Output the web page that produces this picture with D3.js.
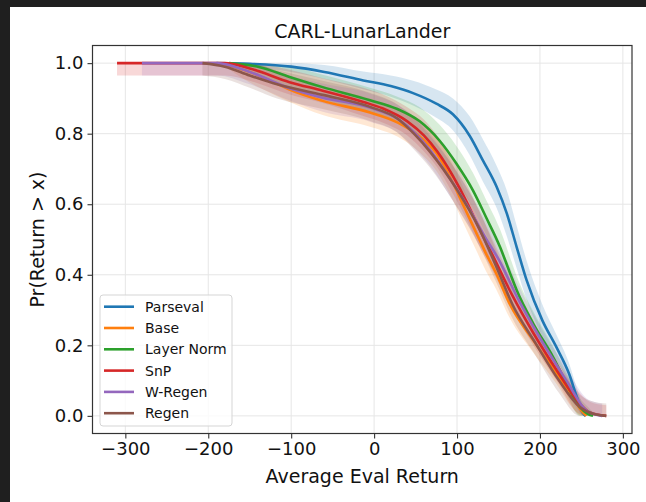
<!DOCTYPE html>
<html><head><meta charset="utf-8">
<script src="https://cdn.jsdelivr.net/npm/d3@7"></script>
<style>
html,body{margin:0;padding:0;background:#fff;}
svg{display:block;font-family:"DejaVu Sans",sans-serif;}
</style></head>
<body><svg id="chart" width="646" height="502"></svg>
<script>
// ---- data ----
const seriesNames = ["Parseval","Base","Layer Norm","SnP","W-Regen","Regen"];
const seriesColors = ["#1f77b4","#ff7f0e","#2ca02c","#d62728","#9467bd","#8c564b"];
const xTicks = [-300,-200,-100,0,100,200,300];
const yTicks = [0.0,0.2,0.4,0.6,0.8,1.0];

const parsevalX = [-190,-150,-100,-60,-13,20,47,75,95,115,131,148,160,172,184,203,220,235,245,252,255];
const parsevalY = [1.0,0.998,0.99,0.975,0.951,0.935,0.915,0.885,0.855,0.795,0.725,0.648,0.574,0.478,0.384,0.27,0.194,0.12,0.05,0.007,0.0];
const parsevalS = [0.0,0.01,0.015,0.02,0.025,0.03,0.035,0.04,0.045,0.055,0.06,0.06,0.065,0.06,0.055,0.045,0.035,0.03,0.025,0.02,0.01];

const baseX = [-185,-150,-120,-102,-62,-5,28,55,75,91,110,125,135,147,164,192,220,240,250,256];
const baseY = [1.0,0.975,0.945,0.925,0.893,0.86,0.832,0.792,0.745,0.68,0.585,0.51,0.46,0.405,0.315,0.214,0.12,0.05,0.015,0.0];
const baseS = [0.0,0.03,0.035,0.035,0.04,0.04,0.04,0.045,0.05,0.05,0.05,0.05,0.05,0.045,0.04,0.035,0.03,0.03,0.02,0.01];

const layerNormX = [-175,-140,-102,-62,-5,28,55,79,99,119,135,152,164,172,192,216,232,248,258,264];
const layerNormY = [1.0,0.99,0.961,0.932,0.895,0.87,0.835,0.78,0.716,0.64,0.563,0.478,0.404,0.356,0.261,0.166,0.092,0.025,0.005,0.0];
const layerNormS = [0.0,0.02,0.03,0.035,0.035,0.035,0.04,0.045,0.05,0.05,0.05,0.05,0.045,0.04,0.035,0.03,0.03,0.025,0.02,0.01];

const snpX = [-310,-180,-150,-102,-62,-13,10,40,60,76,95,112,127,143,167,192,220,248,260,280];
const snpY = [1.0,1.0,0.985,0.946,0.922,0.89,0.872,0.835,0.795,0.75,0.68,0.605,0.53,0.455,0.34,0.235,0.13,0.035,0.01,0.0];
const snpS = [0.035,0.035,0.035,0.035,0.035,0.04,0.04,0.04,0.045,0.045,0.05,0.05,0.05,0.045,0.04,0.035,0.03,0.03,0.03,0.03];

const wRegenX = [-280,-190,-150,-102,-62,-5,30,50,67,95,115,133,151,175,199,232,256,268,275];
const wRegenY = [1.0,1.0,0.975,0.929,0.902,0.874,0.84,0.8,0.755,0.66,0.585,0.51,0.44,0.325,0.225,0.1,0.015,0.003,0.0];
const wRegenS = [0.035,0.035,0.035,0.035,0.04,0.04,0.04,0.045,0.045,0.05,0.05,0.05,0.045,0.04,0.035,0.035,0.035,0.035,0.035];

const regenX = [-207,-180,-150,-117,-62,-5,28,48,67,99,127,147,167,195,223,248,265,280];
const regenY = [1.0,0.99,0.965,0.94,0.91,0.876,0.843,0.8,0.75,0.645,0.53,0.425,0.315,0.205,0.1,0.025,0.005,0.0];
const regenS = [0.035,0.035,0.035,0.04,0.04,0.04,0.04,0.045,0.045,0.05,0.05,0.045,0.04,0.035,0.035,0.035,0.035,0.035];

const allX = [parsevalX,baseX,layerNormX,snpX,wRegenX,regenX];
const allY = [parsevalY,baseY,layerNormY,snpY,wRegenY,regenY];
const allS = [parsevalS,baseS,layerNormS,snpS,wRegenS,regenS];

// ---- layout ----
const svg = d3.select("#chart");
const L = 92.5, R = 632, T = 45.5, B = 433.5;
const x = d3.scaleLinear().domain([-339.6, 311.0]).range([L, R]);
const y = d3.scaleLinear().domain([-0.05, 1.05]).range([B, T]);

svg.append("rect").attr("width",646).attr("height",502).attr("fill","#fff");

// grid
const grid = svg.append("g");
grid.selectAll(".gx").data(xTicks).join("line")
  .attr("x1",d=>x(d)).attr("x2",d=>x(d)).attr("y1",T).attr("y2",B)
  .attr("stroke","#e6e6e6").attr("stroke-width",1);
grid.selectAll(".gy").data(yTicks).join("line")
  .attr("y1",d=>y(d)).attr("y2",d=>y(d)).attr("x1",L).attr("x2",R)
  .attr("stroke","#e6e6e6").attr("stroke-width",1);

svg.append("clipPath").attr("id","clip").append("rect")
  .attr("x",L).attr("y",T).attr("width",R-L).attr("height",B-T);
const plot = svg.append("g").attr("clip-path","url(#clip)");

const area = d3.area().curve(d3.curveMonotoneX).x(d=>x(d.x)).y0(d=>y(d.lo)).y1(d=>y(d.hi));
const line = d3.line().curve(d3.curveMonotoneX).x(d=>x(d.x)).y(d=>y(d.y));

seriesNames.forEach((name,i)=>{
  const pts = allX[i].map((xv,j)=>({x:xv,y:allY[i][j],
    lo:Math.max(0,allY[i][j]-allS[i][j]), hi:Math.min(1,allY[i][j]+allS[i][j])}));
  plot.append("path").datum(pts).attr("d",area)
    .attr("fill",seriesColors[i]).attr("fill-opacity",0.18).attr("stroke","none");
});
seriesNames.forEach((name,i)=>{
  const pts = allX[i].map((xv,j)=>({x:xv,y:allY[i][j]}));
  plot.append("path").datum(pts).attr("d",line)
    .attr("fill","none").attr("stroke",seriesColors[i]).attr("stroke-width",2.6)
    .attr("stroke-linejoin","round");
});

// axes
const axisColor = "#333";
const xAxis = svg.append("g").attr("transform",`translate(0,${B})`)
  .call(d3.axisBottom(x).tickValues(xTicks).tickSize(5).tickPadding(4)
    .tickFormat(d=>d<0?"\u2212"+Math.abs(d):String(d)));
const yAxis = svg.append("g").attr("transform",`translate(${L},0)`)
  .call(d3.axisLeft(y).tickValues(yTicks).tickSize(5).tickPadding(4).tickFormat(d3.format(".1f")));
[xAxis,yAxis].forEach(a=>{
  a.select(".domain").remove();
  a.selectAll(".tick line").attr("stroke",axisColor).attr("stroke-width",1.1);
  a.selectAll(".tick text").attr("fill","#111").style("font-size","18px").style("font-family","DejaVu Sans");
});
svg.append("rect").attr("x",L).attr("y",T).attr("width",R-L).attr("height",B-T)
  .attr("fill","none").attr("stroke",axisColor).attr("stroke-width",1.2);

// labels
svg.append("text").attr("x",(L+R)/2).attr("y",38).attr("text-anchor","middle")
  .style("font-size","19px").attr("fill","#111").text("CARL-LunarLander");
svg.append("text").attr("x",(L+R)/2).attr("y",483).attr("text-anchor","middle")
  .style("font-size","19px").attr("fill","#111").text("Average Eval Return");
svg.append("text").attr("transform",`translate(44,${(T+B)/2}) rotate(-90)`).attr("text-anchor","middle")
  .style("font-size","19px").attr("fill","#111").text("Pr(Return > x)");

// legend
const lg = svg.append("g");
lg.append("rect").attr("x",100).attr("y",295).attr("width",132).attr("height",131).attr("rx",3)
  .attr("fill","#fff").attr("fill-opacity",0.8).attr("stroke","#d5d5d5").attr("stroke-width",1);
seriesNames.forEach((name,i)=>{
  const yy = 306.7 + i*21.3;
  lg.append("line").attr("x1",104).attr("x2",134).attr("y1",yy).attr("y2",yy)
    .attr("stroke",seriesColors[i]).attr("stroke-width",2.6);
  lg.append("text").attr("x",145).attr("y",yy+5).style("font-size","14px").attr("fill","#111").text(name);
});

// dark frame
svg.append("rect").attr("x",0).attr("y",0).attr("width",646).attr("height",7).attr("fill","#1f1f1f");
svg.append("rect").attr("x",0).attr("y",0).attr("width",10).attr("height",502).attr("fill","#1f1f1f");
</script></body></html>
